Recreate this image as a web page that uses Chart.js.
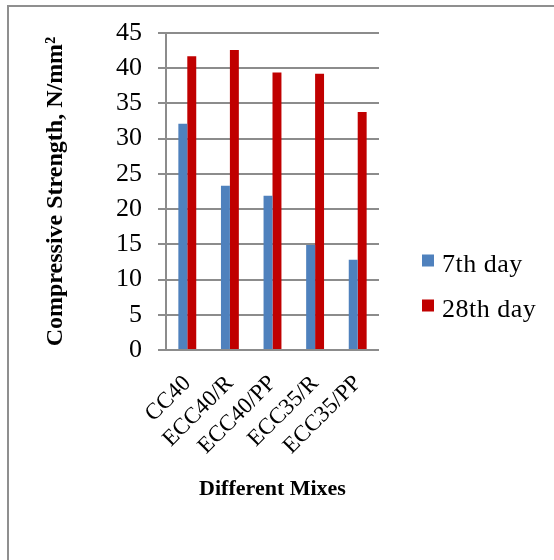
<!DOCTYPE html>
<html>
<head>
<meta charset="utf-8">
<script src="https://cdn.jsdelivr.net/npm/chart.js@4.4.1/dist/chart.umd.min.js"></script>
<style>
    html, body { margin: 0; padding: 0; background: #fff; overflow: hidden; }
    #wrap { position: relative; width: 554px; height: 560px; overflow: hidden; }
    #frame {
        position: absolute; left: 7px; top: 5px; width: 620px; height: 620px;
        border: 2px solid #8f8f8f; pointer-events: none;
    }
</style>
</head>
<body>
<div id="wrap">
    <canvas id="chart" width="554" height="560"></canvas>
    <div id="frame"></div>
</div>
<script>
/* ── 数据 ── */
const mixes = ['CC40', 'ECC40/R', 'ECC40/PP', 'ECC35/R', 'ECC35/PP'];
const day7 = [32.1, 23.3, 21.9, 14.9, 12.8];
const day28 = [41.7, 42.6, 39.4, 39.2, 33.8];
const seriesNames = ['7th day', '28th day'];
const yTicks = [0, 5, 10, 15, 20, 25, 30, 35, 40, 45];

const SERIF = '"Liberation Serif", "Times New Roman", serif';
const GRID = '#8c8c8c';

// 图例画在右侧，位置按原图摆放
const sideLegend = {
    id: 'sideLegend',
    afterDraw(chart) {
        const ctx = chart.ctx;
        const area = chart.chartArea;
        const x = area.right + 43;
        const baseY = 271.5;
        ctx.save();
        ctx.font = '26px ' + SERIF;
        ctx.textBaseline = 'alphabetic';
        if ('letterSpacing' in ctx) ctx.letterSpacing = '0.5px';
        chart.data.datasets.forEach((ds, i) => {
            const y = baseY + i * 45;
            ctx.fillStyle = ds.backgroundColor;
            ctx.fillRect(x, y - 17, 12, 12);
            ctx.fillStyle = '#000';
            ctx.fillText(ds.label, x + 20, y);
        });
        ctx.restore();
    },
};

new Chart(document.getElementById('chart'), {
    type: 'bar',
    data: {
        labels: mixes,
        datasets: [
            { label: seriesNames[0], data: day7, backgroundColor: '#4f81bd' },
            { label: seriesNames[1], data: day28, backgroundColor: '#c00000' },
        ],
    },
    options: {
        responsive: false,
        animation: false,
        layout: { padding: { top: 33, right: 175, bottom: 0, left: 0 } },
        datasets: { bar: { categoryPercentage: 0.42, barPercentage: 1 } },
        scales: {
            x: {
                afterFit: s => { s.height = 210; },
                grid: { display: false, drawTicks: false },
                border: { display: false },
                ticks: {
                    autoSkip: false,
                    minRotation: 45, maxRotation: 45,
                    padding: 20,
                    color: '#000',
                    font: { family: SERIF, size: 23 },
                },
                title: {
                    display: true,
                    text: 'Different Mixes',
                    color: '#000',
                    font: { family: SERIF, size: 22, weight: 'bold' },
                    padding: { top: 0, bottom: 57 },
                },
            },
            y: {
                min: 0, max: 45,
                afterFit: s => { s.width = 166; },
                afterBuildTicks: s => { s.ticks = yTicks.map(v => ({ value: v })); },
                grid: { color: GRID, lineWidth: 2, tickLength: 8 },
                border: { color: GRID, width: 2 },
                ticks: {
                    padding: 16,
                    color: '#000',
                    font: { family: SERIF, size: 26 },
                },
                title: {
                    display: true,
                    text: 'Compressive Strength, N/mm²',
                    color: '#000',
                    font: { family: SERIF, size: 24, weight: 'bold' },
                    padding: { top: 41, bottom: 0 },
                },
            },
        },
        plugins: {
            legend: { display: false },
            tooltip: { enabled: false },
        },
    },
    plugins: [sideLegend],
});
</script>
</body>
</html>
